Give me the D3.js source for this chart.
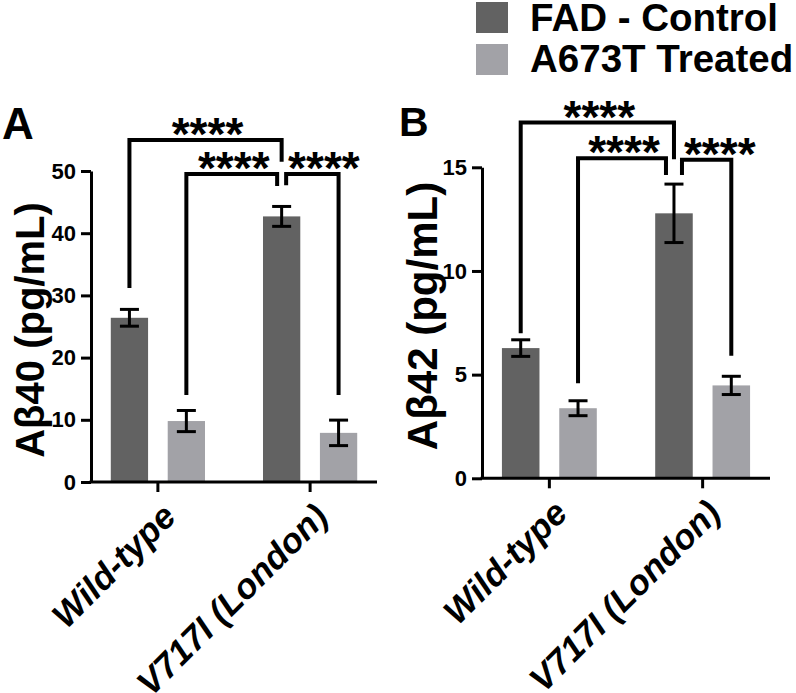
<!DOCTYPE html>
<html>
<head>
<meta charset="utf-8">
<script src="https://cdn.jsdelivr.net/npm/d3@7"></script>
<style>
  html, body { margin: 0; padding: 0; background: #fff; }
  svg { display: block; }
  text { font-family: "Liberation Sans", Arial, Helvetica, sans-serif; font-weight: bold; fill: #000; }
</style>
</head>
<body>
<svg id="chart" width="796" height="693"></svg>
<script>
// ---------------- DATA ----------------
const categories = ["Wild-type", "V717I (London)"];
const seriesNames = ["FAD - Control", "A673T Treated"];

// Panel A: Aβ40 (pg/mL)
const abeta40Control    = [26.4, 42.7];
const abeta40ControlErr = [1.35, 1.6];
const abeta40Treated    = [9.8, 7.9];
const abeta40TreatedErr = [1.7, 2.05];
const ticksA = [0, 10, 20, 30, 40, 50];

// Panel B: Aβ42 (pg/mL)
const abeta42Control    = [6.28, 12.78];
const abeta42ControlErr = [0.4, 1.41];
const abeta42Treated    = [3.38, 4.48];
const abeta42TreatedErr = [0.36, 0.44];
const ticksB = [0, 5, 10, 15];

// Significance comparisons: [category, series] of each end, bracket level and leg ends (data units)
const comparisonsA = [
  { from: [0, 0], to: [1, 0], level: 55.0, fromEnd: 31.2, toEnd: 51.5, label: "****" },
  { from: [0, 1], to: [1, 0], level: 49.5, fromEnd: 14.0, toEnd: 47.6, label: "****" },
  { from: [1, 0], to: [1, 1], level: 49.5, fromEnd: 47.7, toEnd: 14.0, label: "****" }
];
const comparisonsB = [
  { from: [0, 0], to: [1, 0], level: 17.16, fromEnd: 7.0,  toEnd: 15.39, label: "****" },
  { from: [0, 1], to: [1, 0], level: 15.44, fromEnd: 4.58, toEnd: 14.63, label: "****" },
  { from: [1, 0], to: [1, 1], level: 15.36, fromEnd: 14.63, toEnd: 5.91, label: "****" }
];

// ---------------- STYLE / LAYOUT ----------------
const colors = ["#626262", "#a2a2a7"];
const panels = [
  { letter: "A", yTitle: "Aβ40 (pg/mL)", control: abeta40Control, controlErr: abeta40ControlErr,
    treated: abeta40Treated, treatedErr: abeta40TreatedErr, domain: [0, 50], ticks: ticksA,
    comps: comparisonsA, left: 91, right: 377, top: 171, bottom: 482,
    letterX: 2, letterY: 139, letterSize: 44, titleX: 44, titleY: 330, titleSize: 40, legGap: 4.5 },
  { letter: "B", yTitle: "Aβ42 (pg/mL)", control: abeta42Control, controlErr: abeta42ControlErr,
    treated: abeta42Treated, treatedErr: abeta42TreatedErr, domain: [0, 15], ticks: ticksB,
    comps: comparisonsB, left: 482, right: 770, top: 167.3, bottom: 478.3,
    letterX: 399, letterY: 136, letterSize: 41, titleX: 437, titleY: 316, titleSize: 42, legGap: 8 }
];

const svg = d3.select("#chart");

panels.forEach(p => {
  const g = svg.append("g");
  const values = [p.control, p.treated];
  const errs = [p.controlErr, p.treatedErr];

  const x0 = d3.scaleBand().domain(categories).range([p.left, p.right])
    .paddingInner(0.381).paddingOuter(0.13);
  const x1 = d3.scaleBand().domain(seriesNames).range([0, x0.bandwidth()])
    .paddingInner(0.345).paddingOuter(0);
  const y = d3.scaleLinear().domain(p.domain).range([p.bottom, p.top]);

  const barCenter = (ci, si) => x0(categories[ci]) + x1(seriesNames[si]) + x1.bandwidth() / 2;

  // bars
  categories.forEach((c, ci) => {
    seriesNames.forEach((s, si) => {
      const v = values[si][ci];
      g.append("rect")
        .attr("x", x0(c) + x1(s))
        .attr("y", y(v))
        .attr("width", x1.bandwidth())
        .attr("height", y(0) - y(v))
        .attr("fill", colors[si]);
    });
  });

  // error bars
  categories.forEach((c, ci) => {
    seriesNames.forEach((s, si) => {
      const v = values[si][ci], e = errs[si][ci];
      const cx = barCenter(ci, si);
      const eg = g.append("g").attr("stroke", "#000").attr("stroke-width", 3).attr("fill", "none");
      eg.append("line").attr("x1", cx).attr("x2", cx).attr("y1", y(v + e)).attr("y2", y(v - e));
      eg.append("line").attr("x1", cx - 9.5).attr("x2", cx + 9.5).attr("y1", y(v + e)).attr("y2", y(v + e));
      eg.append("line").attr("x1", cx - 9.5).attr("x2", cx + 9.5).attr("y1", y(v - e)).attr("y2", y(v - e));
    });
  });

  // y axis
  const yAxis = g.append("g").attr("transform", `translate(${p.left},0)`)
    .call(d3.axisLeft(y).tickValues(p.ticks).tickSize(10).tickSizeOuter(0).tickPadding(5).tickFormat(d3.format("d")));
  yAxis.select(".domain").attr("stroke", "#000").attr("stroke-width", 3);
  yAxis.selectAll(".tick line").attr("stroke", "#000").attr("stroke-width", 3);
  yAxis.selectAll(".tick text").attr("font-size", 22).attr("font-weight", "bold")
    .attr("font-family", "'Liberation Sans', Arial, sans-serif").attr("fill", "#000");

  // x axis
  const xAxis = g.append("g").attr("transform", `translate(0,${p.bottom})`)
    .call(d3.axisBottom(x0).tickSize(10).tickSizeOuter(0));
  xAxis.select(".domain").attr("stroke", "#000").attr("stroke-width", 3)
    .attr("d", `M${p.left - 1.5},0H${p.right}`);
  xAxis.selectAll(".tick line").attr("stroke", "#000").attr("stroke-width", 3);
  xAxis.selectAll(".tick text")
    .attr("font-size", 35).attr("font-weight", "bold").attr("font-style", "italic")
    .attr("font-family", "'Liberation Sans', Arial, sans-serif").attr("fill", "#000")
    .attr("text-anchor", "end")
    .attr("x", 0).attr("y", 0).attr("dy", "0.72em")
    .attr("transform", "translate(2,19) rotate(-45)");

  // y title
  g.append("text")
    .attr("transform", `translate(${p.titleX},${p.titleY}) rotate(-90)`)
    .attr("text-anchor", "middle")
    .attr("font-size", p.titleSize)
    .text(p.yTitle);

  // panel letter
  g.append("text").attr("x", p.letterX).attr("y", p.letterY)
    .attr("font-size", p.letterSize).text(p.letter);

  // significance brackets
  const starSize = 46;
  p.comps.forEach((c, i) => {
    let xl = barCenter(c.from[0], c.from[1]);
    let xr = barCenter(c.to[0], c.to[1]);
    if (i === 1) xr -= p.legGap;
    if (i === 2) xl += p.legGap;
    const yl = y(c.level);
    g.append("path")
      .attr("d", `M${xl},${y(c.fromEnd)}V${yl}H${xr}V${y(c.toEnd)}`)
      .attr("fill", "none").attr("stroke", "#000").attr("stroke-width", 4)
      .attr("stroke-linejoin", "miter");
    const halfW = starSize * 0.389 * c.label.length / 2;
    const cx = Math.max((xl + xr) / 2, xl + halfW) + 2;
    g.append("text")
      .attr("x", cx).attr("y", yl - 15 + starSize * 0.55)
      .attr("text-anchor", "middle").attr("font-size", starSize)
      .text(c.label);
  });
});

// legend
const legend = svg.append("g");
seriesNames.forEach((s, i) => {
  legend.append("rect").attr("x", 476).attr("y", 2 + i * 42).attr("width", 32).attr("height", 31)
    .attr("fill", colors[i]);
  legend.append("text").attr("x", 530).attr("y", 31 + i * 41)
    .attr("font-size", 38.5).text(s);
});
</script>
</body>
</html>
